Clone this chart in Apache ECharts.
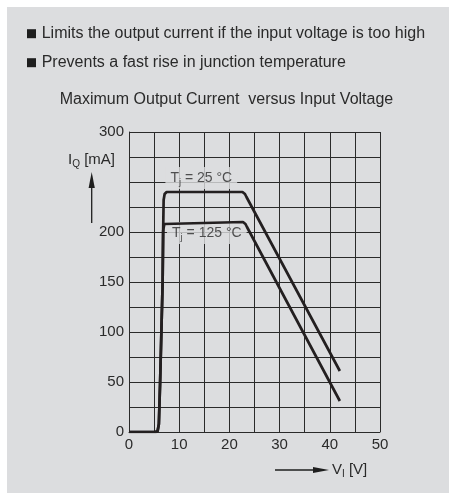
<!DOCTYPE html>
<html><head><meta charset="utf-8">
<script src="https://cdn.jsdelivr.net/npm/echarts@6/dist/echarts.min.js"></script>
<style>html,body{margin:0;padding:0;background:#fff}#c{width:449px;height:495px}</style>
</head><body><div id="c"></div>
<script>
// ---- data ----
const voltage25  = [0, 5.3, 5.7, 5.95, 6.2, 6.45, 6.7, 6.8, 6.9, 7.1, 7.5, 22.6, 23.1, 23.4, 42];
const current25  = [0, 0,   1,   8,    50,  100,  150, 200, 232, 238, 240, 240,  238,  235,  61];
const voltage125 = [0, 5.3, 5.7, 5.95, 6.2, 6.45, 6.7, 6.8, 6.85, 7.05, 7.4, 22.7, 23.2, 23.5, 42];
const current125 = [0, 0,   1,   8,    50,  100,  150, 200, 203,  208,  210, 210,  208,  205,  31];
const tempLabels = ['25', '125'];
const tempLabelPos = [[14.4, 254], [15.5, 199]];
const xTickLabels = [0, 10, 20, 30, 40, 50];
const yTickLabels = [0, 50, 100, 150, 200, 300];
const bulletTexts = ['Limits the output current if the input voltage is too high',
                     'Prevents a fast rise in junction temperature'];
const chartTitle = 'Maximum Output Current  versus Input Voltage';

const FONT = '"Liberation Sans", Arial, Helvetica, sans-serif';
const TXT = '#2a2a2a';
const BG = '#dcdddf';
const GRIDC = '#2a2a2a';
const LINEC = '#231f20';

function pairs(xs, ys) { return xs.map((x, i) => [x, ys[i]]); }

const chart = echarts.init(document.getElementById('c'), null, {renderer: 'canvas'});

const graphics = [
  {type: 'rect', z: -10, shape: {x: 7, y: 7, width: 442, height: 486}, style: {fill: BG}},
  {type: 'text', x: 226.5, y: 100, style: {text: chartTitle, font: '16px ' + FONT, fill: TXT, align: 'center', verticalAlign: 'middle'}},
  // y-axis title and arrow
  {type: 'text', x: 115, y: 160, style: {
    text: '{a|I}{s|Q}{a| [mA]}', align: 'right', verticalAlign: 'middle',
    rich: {a: {font: '15px ' + FONT, fill: TXT, lineHeight: 19, verticalAlign: 'middle'},
           s: {font: '10px ' + FONT, fill: TXT, lineHeight: 10, verticalAlign: 'bottom'}}}},
  {type: 'line', shape: {x1: 91.7, y1: 223, x2: 91.7, y2: 186}, style: {stroke: '#1e1e1e', lineWidth: 1.3}},
  {type: 'polygon', shape: {points: [[91.7, 172], [88.6, 188], [94.8, 188]]}, style: {fill: '#1e1e1e'}},
  // x-axis title and arrow
  {type: 'line', shape: {x1: 275, y1: 470, x2: 316, y2: 470}, style: {stroke: '#1e1e1e', lineWidth: 1.3}},
  {type: 'polygon', shape: {points: [[329, 470], [313, 466.9], [313, 473.1]]}, style: {fill: '#1e1e1e'}},
  {type: 'text', x: 332, y: 470, style: {
    text: '{a|V}{s|I}{a| [V]}', align: 'left', verticalAlign: 'middle',
    rich: {a: {font: '15px ' + FONT, fill: TXT, lineHeight: 19, verticalAlign: 'middle'},
           s: {font: '10px ' + FONT, fill: TXT, lineHeight: 10, verticalAlign: 'bottom'}}}}
];
bulletTexts.forEach((t, i) => {
  const cy = 33.7 + i * 29;
  graphics.push({type: 'rect', shape: {x: 27, y: cy - 4.5, width: 9, height: 9}, style: {fill: '#1e1e1e'}});
  graphics.push({type: 'text', x: 41.7, y: cy, style: {text: t, font: '16px ' + FONT, fill: TXT, align: 'left', verticalAlign: 'middle'}});
});

const lineStyle = {color: LINEC, width: 2.7, join: 'round', cap: 'butt'};

chart.setOption({
  animation: false,
  backgroundColor: 'transparent',
  graphic: graphics,
  grid: {left: 129, right: 69, top: 132, bottom: 63, containLabel: false},
  xAxis: {
    type: 'value', min: 0, max: 50, interval: 5,
    axisLine: {show: true, lineStyle: {color: GRIDC, width: 1}},
    axisTick: {show: false},
    splitLine: {show: true, lineStyle: {color: GRIDC, width: 1}},
    axisLabel: {margin: 5, fontSize: 15, fontFamily: FONT, color: TXT,
      formatter: v => xTickLabels.includes(v) ? String(v) : ''}
  },
  yAxis: {
    type: 'value', min: 0, max: 300, interval: 25,
    axisLine: {show: true, lineStyle: {color: GRIDC, width: 1}},
    axisTick: {show: false},
    splitLine: {show: true, lineStyle: {color: GRIDC, width: 1}},
    axisLabel: {margin: 5, fontSize: 15, fontFamily: FONT, color: TXT,
      formatter: v => yTickLabels.includes(v) ? String(v) : ''}
  },
  series: [
    {
      type: 'scatter', z: 2, symbolSize: 0, silent: true,
      data: tempLabelPos.map((p, i) => ({value: p, name: tempLabels[i]})),
      label: {
        show: true, position: 'inside', backgroundColor: BG, padding: [2, 5, 2, 5],
        formatter: p => '{a|T}{s|j}{a| = ' + p.name + ' °C}',
        rich: {a: {fontSize: 14, fontFamily: FONT, color: TXT, lineHeight: 18, verticalAlign: 'middle'},
               s: {fontSize: 9.5, fontFamily: FONT, color: TXT, lineHeight: 9, verticalAlign: 'bottom'}}
      }
    },
    {type: 'line', z: 3, name: 'Tj=25', data: pairs(voltage25, current25), showSymbol: false, symbol: 'none', lineStyle: lineStyle},
    {type: 'line', z: 3, name: 'Tj=125', data: pairs(voltage125, current125), showSymbol: false, symbol: 'none', lineStyle: lineStyle}
  ]
});
</script></body></html>
